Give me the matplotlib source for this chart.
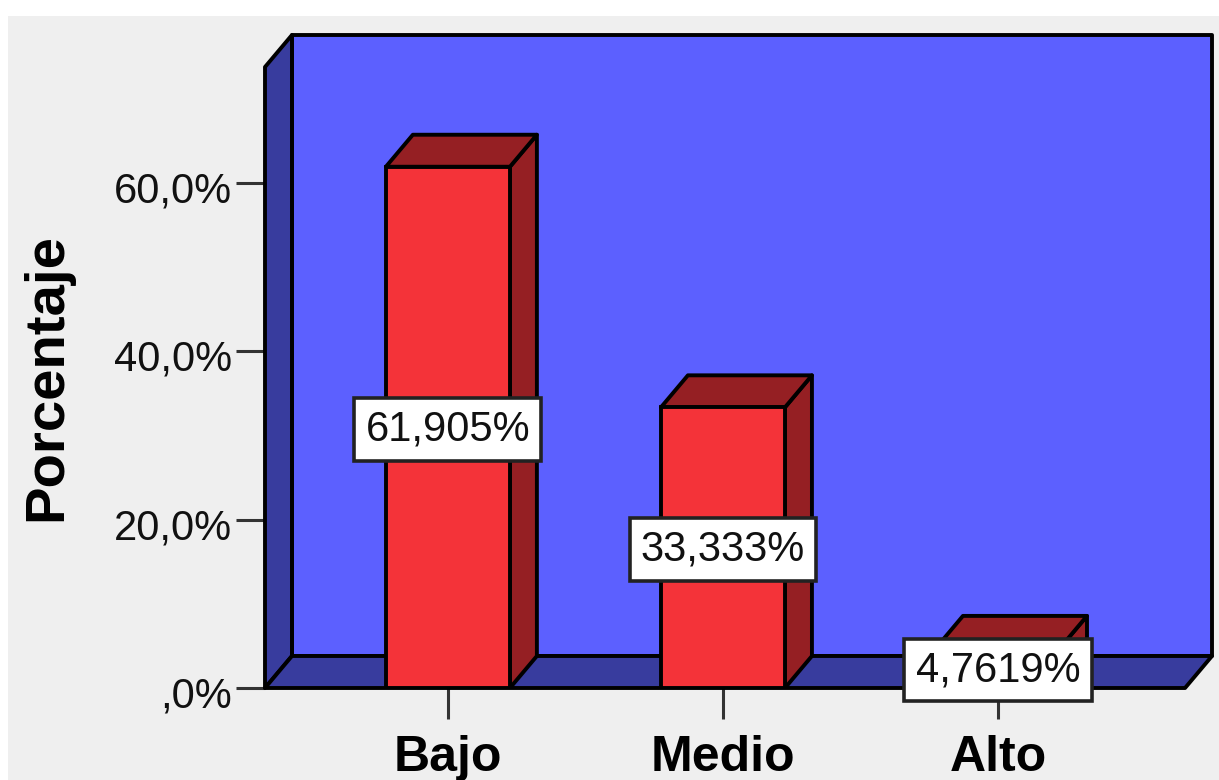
import matplotlib
matplotlib.use('Agg')
import matplotlib.pyplot as plt
from matplotlib.patches import Polygon, Rectangle
from matplotlib.transforms import ScaledTranslation

plt.rcParams['font.family'] = ['Liberation Sans', 'DejaVu Sans']

categories = ['Bajo', 'Medio', 'Alto']
values = [61.905, 33.333, 4.7619]
value_labels = ['61,905%', '33,333%', '4,7619%']
y_ticks = [0, 20, 40, 60]
y_tick_labels = [',0%', '20,0%', '40,0%', '60,0%']

W = 1219
H = 780
wall_front_top = 73.75     # front edge of the left wall, in percent
dx = 0.098                 # 3d depth along x
dy = 3.8                   # 3d depth along y
bar_w = 0.451
lw = 2.8

back = '#5C60FF'
wall = '#383C9E'
red = '#F43339'
dark = '#951F23'

fig = plt.figure(figsize=(W / 100, H / 100), dpi=100, facecolor='white')
fig.patches.append(Rectangle((8 / W, 0), 1, 1 - 16 / H, transform=fig.transFigure,
                             facecolor='#EFEFEF', edgecolor='none', zorder=-5))

ax = fig.add_axes([265 / W, 1 - 688 / H, (1212 - 265) / W, (688 - 35) / H])
ax.patch.set_visible(False)
ax.set_xlim(-0.665, 2.778)
ax.set_ylim(0, 77.55)
for s in ax.spines.values():
    s.set_visible(False)

x0 = -0.665
x1 = 2.68

# back wall, left wall and floor
ax.add_patch(Polygon([(x0 + dx, dy), (x1 + dx, dy), (x1 + dx, wall_front_top + dy),
                      (x0 + dx, wall_front_top + dy)], facecolor=back, edgecolor='black',
                     lw=lw, zorder=1, clip_on=False, joinstyle='round'))
ax.add_patch(Polygon([(x0, 0), (x0 + dx, dy), (x0 + dx, wall_front_top + dy), (x0, wall_front_top)],
                     facecolor=wall, edgecolor='black', lw=lw, zorder=2, clip_on=False, joinstyle='round'))
ax.add_patch(Polygon([(x0, 0), (x0 + dx, dy), (x1 + dx, dy), (x1, 0)],
                     facecolor=wall, edgecolor='black', lw=lw, zorder=2, clip_on=False, joinstyle='round'))

# bars with their side and top faces
pos = list(range(len(values)))
ax.bar(pos, values, width=bar_w, color=red, edgecolor='black', linewidth=lw, zorder=4)
for p, v in zip(pos, values):
    l = p - bar_w / 2
    r = p + bar_w / 2
    ax.add_patch(Polygon([(r, 0), (r + dx, dy), (r + dx, v + dy), (r, v)],
                         facecolor=dark, edgecolor='black', lw=lw, zorder=3, joinstyle='round'))
    ax.add_patch(Polygon([(l, v), (l + dx, v + dy), (r + dx, v + dy), (r, v)],
                         facecolor=dark, edgecolor='black', lw=lw, zorder=3, joinstyle='round'))

for p, v, t in zip(pos, values, value_labels):
    ax.annotate(t, (p, v / 2), xytext=(0, -1.5), textcoords='offset points', ha='center', va='center',
                fontsize=30, color='#111111', zorder=6,
                bbox=dict(boxstyle='square,pad=0.27', facecolor='white', edgecolor='#222222', linewidth=2.6))

ax.set_yticks(y_ticks)
ax.set_yticklabels(y_tick_labels, fontsize=30, color='#111111', va='center_baseline')
ax.set_xticks(pos)
ax.set_xticklabels(categories, fontsize=36, fontweight='bold')
ax.tick_params(axis='y', length=21, width=2.2, pad=3, color='#333333')
ax.tick_params(axis='x', length=22, width=2.2, pad=12, color='#333333')

# tick_params resets the label transform, so the shift has to come after it
shift = ScaledTranslation(0, -3 / 72, fig.dpi_scale_trans)
for tick in ax.yaxis.get_major_ticks():
    tick.label1.set_transform(tick.label1.get_transform() + shift)

fig.text(47 / W, 1 - 377 / H, 'Porcentaje', rotation=90, ha='center', va='center',
         fontsize=40.5, fontweight='bold')

fig.savefig('out.png', dpi=100)
